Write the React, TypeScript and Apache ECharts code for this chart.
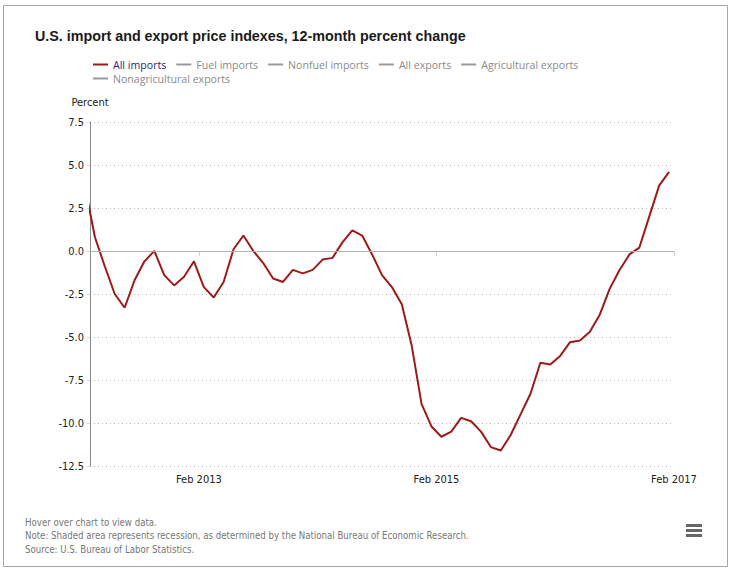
import React, { useEffect, useRef } from "react";
import * as echarts from "echarts";

const TITLE = "U.S. import and export price indexes, 12-month percent change";

const seriesNames = [
  "All imports",
  "Fuel imports",
  "Nonfuel imports",
  "All exports",
  "Agricultural exports",
  "Nonagricultural exports",
];

const months = [
  "Mar 2012", "Apr 2012", "May 2012", "Jun 2012", "Jul 2012", "Aug 2012", "Sep 2012", "Oct 2012", "Nov 2012", "Dec 2012",
  "Jan 2013", "Feb 2013", "Mar 2013", "Apr 2013", "May 2013", "Jun 2013", "Jul 2013", "Aug 2013", "Sep 2013", "Oct 2013", "Nov 2013", "Dec 2013",
  "Jan 2014", "Feb 2014", "Mar 2014", "Apr 2014", "May 2014", "Jun 2014", "Jul 2014", "Aug 2014", "Sep 2014", "Oct 2014", "Nov 2014", "Dec 2014",
  "Jan 2015", "Feb 2015", "Mar 2015", "Apr 2015", "May 2015", "Jun 2015", "Jul 2015", "Aug 2015", "Sep 2015", "Oct 2015", "Nov 2015", "Dec 2015",
  "Jan 2016", "Feb 2016", "Mar 2016", "Apr 2016", "May 2016", "Jun 2016", "Jul 2016", "Aug 2016", "Sep 2016", "Oct 2016", "Nov 2016", "Dec 2016",
  "Jan 2017", "Feb 2017",
];

const allImports = [
  3.7, 0.8, -0.9, -2.5, -3.3, -1.7, -0.6, 0.0, -1.4, -2.0,
  -1.5, -0.6, -2.1, -2.7, -1.8, 0.1, 0.9, 0.0, -0.7, -1.6, -1.8, -1.1,
  -1.3, -1.1, -0.5, -0.4, 0.5, 1.2, 0.9, -0.2, -1.4, -2.1, -3.1, -5.5,
  -8.9, -10.2, -10.8, -10.5, -9.7, -9.9, -10.5, -11.4, -11.6, -10.7, -9.5, -8.3,
  -6.5, -6.6, -6.1, -5.3, -5.2, -4.7, -3.7, -2.2, -1.1, -0.2, 0.2, 2.0,
  3.8, 4.6,
];

const tickLabels = ["Feb 2013", "Feb 2015", "Feb 2017"];
const yTicks = { min: -12.5, max: 7.5, step: 2.5 };

const footerLines = [
  "Hover over chart to view data.",
  "Note: Shaded area represents recession, as determined by the National Bureau of Economic Research.",
  "Source: U.S. Bureau of Labor Statistics.",
];

const RED = "#9b1b1b";
const GRAY = "#9a9a9a";
const TICK_FONT = "'DejaVu Sans Condensed', 'DejaVu Sans', sans-serif";
const LEGEND_FONT = "'Open Sans', sans-serif";

export default function App() {
  const ref = useRef<HTMLDivElement>(null);

  useEffect(() => {
    if (!ref.current) return;
    const chart = echarts.init(ref.current, null, { renderer: "svg" });

    const tickValues = tickLabels.map((l) => months.indexOf(l) + 0.5);
    const labelFor = (v: number) => {
      const i = tickValues.findIndex((t) => Math.abs(t - v) < 1e-6);
      return i >= 0 ? tickLabels[i] : "";
    };

    const legendData = seriesNames.map((n, i) => ({
      name: n,
      textStyle: { color: i === 0 ? "#262680" : "#8a8a8a" },
    }));

    const legendCommon = {
      left: 93,
      padding: 0,
      icon: "rect",
      itemWidth: 15,
      itemHeight: 2,
      itemGap: 10,
      textStyle: { fontFamily: LEGEND_FONT, fontSize: 10.6 },
    };

    const option: any = {
      animation: false,
      title: {
        text: TITLE,
        left: 35,
        top: 29,
        padding: 0,
        textStyle: {
          fontFamily: "'Liberation Sans', Arial, sans-serif",
          fontSize: 14.3,
          fontWeight: "bold",
          color: "#1a1a1a",
        },
      },
      legend: [
        { ...legendCommon, data: legendData.slice(0, 5), top: 59 },
        { ...legendCommon, data: legendData.slice(5), top: 73 },
      ],
      grid: { left: 90, right: 61, top: 122, bottom: 105, containLabel: false },
      xAxis: {
        type: "value",
        min: 0.5,
        max: months.length - 0.5,
        axisLine: { show: true, lineStyle: { color: "#888", width: 1 } },
        axisTick: {
          show: true,
          length: 5,
          customValues: tickValues,
          lineStyle: { color: "#ccd6eb" },
        },
        axisLabel: {
          customValues: tickValues,
          formatter: labelFor,
          color: "#222",
          fontFamily: TICK_FONT,
          fontSize: 11,
          margin: 8,
        },
        splitLine: { show: false },
      },
      yAxis: {
        type: "value",
        min: yTicks.min,
        max: yTicks.max,
        interval: yTicks.step,
        name: "Percent",
        nameLocation: "end",
        nameGap: 14,
        nameTextStyle: { color: "#222", fontFamily: TICK_FONT, fontSize: 11 },
        axisLine: { show: true, lineStyle: { color: "#888", width: 1 } },
        axisTick: { show: true, length: 3, lineStyle: { color: "#ccd6eb" } },
        axisLabel: {
          formatter: (v: number) => v.toFixed(1),
          color: "#222",
          fontFamily: TICK_FONT,
          fontSize: 11,
          margin: 6,
        },
        splitLine: { show: true, lineStyle: { color: "#b8b8b8", type: [1, 3], width: 1 } },
      },
      series: [
        {
          name: "zero",
          type: "line",
          data: [],
          z: 1,
          silent: true,
          markLine: {
            silent: true,
            symbol: "none",
            label: { show: false },
            lineStyle: { color: "#b0b0b0", type: "solid", width: 1 },
            data: [{ yAxis: 0 }],
          },
        },
        {
          name: seriesNames[0],
          type: "line",
          data: allImports.map((v, i) => [i, v]),
          showSymbol: false,
          symbol: "none",
          clip: true,
          z: 3,
          itemStyle: { color: RED },
          lineStyle: { color: RED, width: 2 },
        },
        ...seriesNames.slice(1).map((n) => ({
          name: n,
          type: "line",
          data: [],
          symbol: "none",
          itemStyle: { color: GRAY },
          lineStyle: { color: GRAY, width: 2 },
        })),
      ],
      graphic: [
        {
          type: "rect",
          silent: true,
          shape: { x: 3.5, y: 5.5, width: 724, height: 561 },
          style: { fill: "none", stroke: "#a6a6a6", lineWidth: 1 },
        },
        ...footerLines.map((t, i) => ({
          type: "text",
          left: 25,
          top: 517 + i * 13.5,
          style: {
            text: t,
            fill: "#777",
            font: `9.6px ${TICK_FONT}`,
          },
        })),
        ...[0, 5, 10].map((dy) => ({
          type: "rect",
          silent: true,
          shape: { x: 686, y: 524 + dy, width: 16, height: 3 },
          style: { fill: "#666" },
        })),
      ],
    };

    chart.setOption(option);
    return () => chart.dispose();
  }, []);

  return (
    <div
      ref={ref}
      style={{ position: "absolute", left: 0, top: 0, width: 735, height: 571 }}
    />
  );
}
